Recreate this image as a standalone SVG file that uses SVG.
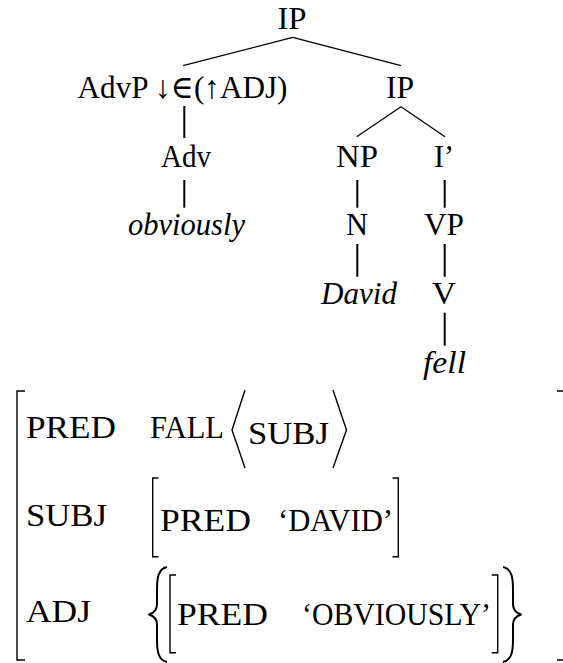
<svg xmlns="http://www.w3.org/2000/svg" width="563" height="663" viewBox="0 0 563 663">
  <style>
    .t { font-family: "Liberation Serif", "DejaVu Serif", serif; font-size: 32px; fill: #000; }
    .i { font-style: italic; }
    .edge { stroke: #000; stroke-width: 1.3; fill: none; stroke-linecap: butt; }
    .stem { stroke: #000; stroke-width: 2; fill: none; }
    .br { stroke: #000; stroke-width: 1.4; fill: none; stroke-linejoin: miter; }
    .brace { stroke: #000; stroke-width: 2; fill: none; stroke-linejoin: round; }
  </style>
  <rect width="563" height="663" fill="#fff"/>

  <!-- tree connectors -->
  <g id="connectors">
    <line class="edge" x1="292.7" y1="37.3" x2="183" y2="65.7"/>
    <line class="edge" x1="292.7" y1="37.3" x2="401" y2="65.7"/>
    <line class="stem" x1="184.3" y1="106" x2="184.3" y2="138"/>
    <line class="edge" x1="401" y1="106.7" x2="356.7" y2="136.7"/>
    <line class="edge" x1="401" y1="106.7" x2="445" y2="136.7"/>
    <line class="stem" x1="184.3" y1="180" x2="184.3" y2="207.7"/>
    <line class="stem" x1="357.3" y1="180" x2="357.3" y2="207.7"/>
    <line class="stem" x1="444.7" y1="180" x2="444.7" y2="207.7"/>
    <line class="stem" x1="357.3" y1="244" x2="357.3" y2="276.7"/>
    <line class="stem" x1="444.7" y1="244" x2="444.7" y2="276.7"/>
    <line class="stem" x1="444.7" y1="312.7" x2="444.7" y2="345.7"/>
  </g>

  <!-- tree nodes -->
  <g id="ip-root"><text class="t" x="277.5" y="29" textLength="29" lengthAdjust="spacingAndGlyphs">IP</text></g>
  <g id="advp"><text class="t" x="77.5" y="98" textLength="210" lengthAdjust="spacingAndGlyphs">AdvP ↓∈(↑ADJ)</text></g>
  <g id="ip"><text class="t" x="386" y="98" textLength="28" lengthAdjust="spacingAndGlyphs">IP</text></g>
  <g id="adv"><text class="t" x="161" y="167" textLength="50" lengthAdjust="spacingAndGlyphs">Adv</text></g>
  <g id="np"><text class="t" x="336" y="167" textLength="42" lengthAdjust="spacingAndGlyphs">NP</text></g>
  <g id="ibar"><text class="t" x="434" y="167" textLength="20" lengthAdjust="spacingAndGlyphs">I’</text></g>
  <g id="obviously"><text class="t i" x="128" y="235" textLength="117" lengthAdjust="spacingAndGlyphs">obviously</text></g>
  <g id="n"><text class="t" x="346" y="235" textLength="22" lengthAdjust="spacingAndGlyphs">N</text></g>
  <g id="vp"><text class="t" x="424" y="235" textLength="40" lengthAdjust="spacingAndGlyphs">VP</text></g>
  <g id="david"><text class="t i" x="321" y="304" textLength="76" lengthAdjust="spacingAndGlyphs">David</text></g>
  <g id="v"><text class="t" x="432" y="304" textLength="24" lengthAdjust="spacingAndGlyphs">V</text></g>
  <g id="fell"><text class="t i" x="423" y="373" textLength="43" lengthAdjust="spacingAndGlyphs">fell</text></g>

  <!-- f-structure -->
  <g id="fstructure">
    <!-- outer brackets -->
    <path class="br" d="M25,391 H17 V660 H25"/>
    <path class="br" d="M557,391 H565 V660 H557"/>

    <!-- PRED row -->
    <text class="t" x="26" y="438" textLength="90" lengthAdjust="spacingAndGlyphs">PRED</text>
    <text class="t" x="150" y="438" textLength="74" lengthAdjust="spacingAndGlyphs">FALL</text>
    <polyline class="br" points="245,390 232,430 245,468"/>
    <text class="t" x="248" y="444" textLength="81" lengthAdjust="spacingAndGlyphs">SUBJ</text>
    <polyline class="br" points="333,390 346.5,430 333,468"/>

    <!-- SUBJ row -->
    <text class="t" x="26" y="526" textLength="81" lengthAdjust="spacingAndGlyphs">SUBJ</text>
    <path class="br" d="M158.5,478 H152.7 V556.7 H158.5"/>
    <text class="t" x="160" y="531" textLength="91" lengthAdjust="spacingAndGlyphs">PRED</text>
    <text class="t" x="278" y="531" textLength="115" lengthAdjust="spacingAndGlyphs">‘DAVID’</text>
    <path class="br" d="M392.5,478 H398.3 V556.7 H392.5"/>

    <!-- ADJ row -->
    <text class="t" x="26" y="622" textLength="65" lengthAdjust="spacingAndGlyphs">ADJ</text>
    <path class="brace" d="M167,567 C158,569 157,578 157,590 L157,604 C157,610 154,613 149,614.5 C154,616 157,619 157,625 L157,639 C157,651 158,660 167,662"/>
    <path class="br" d="M176,575 H170 V652.7 H176"/>
    <text class="t" x="177" y="625" textLength="91" lengthAdjust="spacingAndGlyphs">PRED</text>
    <text class="t" x="302" y="625" textLength="189" lengthAdjust="spacingAndGlyphs">‘OBVIOUSLY’</text>
    <path class="br" d="M491.7,575 H497.7 V652.7 H491.7"/>
    <path class="brace" d="M503,567 C512,569 513,578 513,590 L513,604 C513,610 516,613 521,614.5 C516,616 513,619 513,625 L513,639 C513,651 512,660 503,662"/>
  </g>
</svg>
